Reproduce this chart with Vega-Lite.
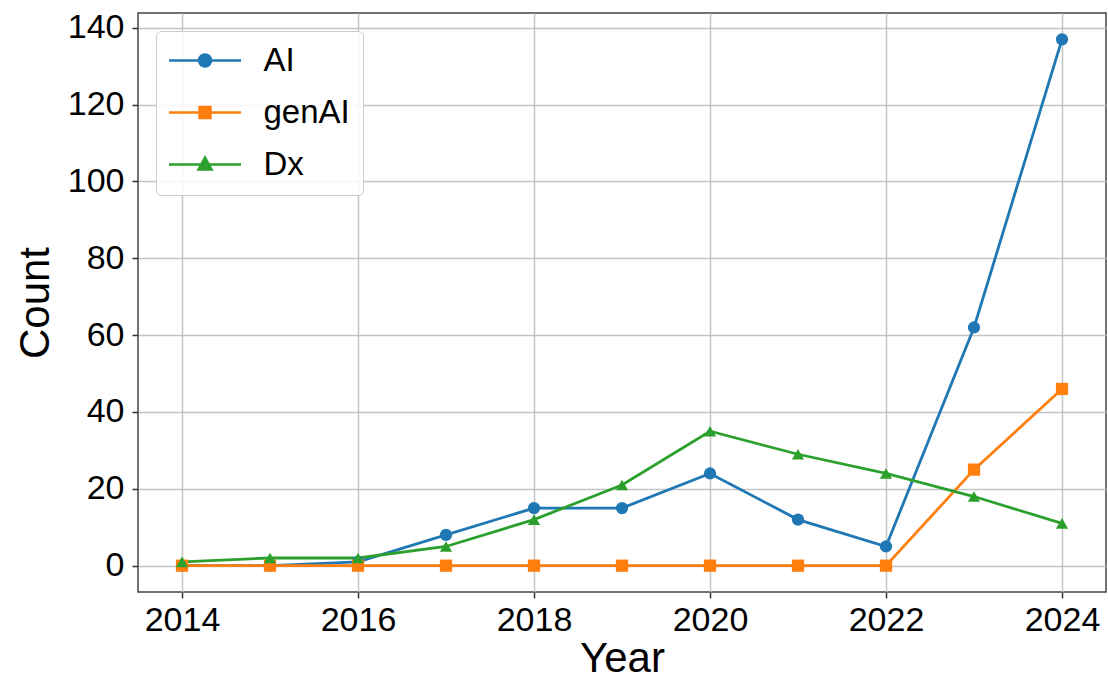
{
  "$schema": "https://vega.github.io/schema/vega-lite/v6.json",
  "width": 968,
  "height": 579,
  "autosize": {"type": "none"},
  "padding": {"left": 138, "top": 13, "right": 2, "bottom": 87},
  "background": "white",
  "config": {
    "font": "Liberation Sans",
    "view": {"stroke": "#444444", "strokeWidth": 1.5},
    "axis": {
      "domain": false,
      "grid": true,
      "gridColor": "#c4c4c4",
      "gridWidth": 1.5,
      "tickColor": "#333333",
      "tickSize": 6,
      "tickWidth": 1.5,
      "labelColor": "black",
      "labelFontSize": 34,
      "titleColor": "black",
      "titleFontSize": 42,
      "titleFontWeight": "normal"
    }
  },
  "data": {
    "values": [
      {"year": 2014, "series": "AI", "count": 0},
      {"year": 2015, "series": "AI", "count": 0},
      {"year": 2016, "series": "AI", "count": 1},
      {"year": 2017, "series": "AI", "count": 8},
      {"year": 2018, "series": "AI", "count": 15},
      {"year": 2019, "series": "AI", "count": 15},
      {"year": 2020, "series": "AI", "count": 24},
      {"year": 2021, "series": "AI", "count": 12},
      {"year": 2022, "series": "AI", "count": 5},
      {"year": 2023, "series": "AI", "count": 62},
      {"year": 2024, "series": "AI", "count": 137},
      {"year": 2014, "series": "genAI", "count": 0},
      {"year": 2015, "series": "genAI", "count": 0},
      {"year": 2016, "series": "genAI", "count": 0},
      {"year": 2017, "series": "genAI", "count": 0},
      {"year": 2018, "series": "genAI", "count": 0},
      {"year": 2019, "series": "genAI", "count": 0},
      {"year": 2020, "series": "genAI", "count": 0},
      {"year": 2021, "series": "genAI", "count": 0},
      {"year": 2022, "series": "genAI", "count": 0},
      {"year": 2023, "series": "genAI", "count": 25},
      {"year": 2024, "series": "genAI", "count": 46},
      {"year": 2014, "series": "Dx", "count": 1},
      {"year": 2015, "series": "Dx", "count": 2},
      {"year": 2016, "series": "Dx", "count": 2},
      {"year": 2017, "series": "Dx", "count": 5},
      {"year": 2018, "series": "Dx", "count": 12},
      {"year": 2019, "series": "Dx", "count": 21},
      {"year": 2020, "series": "Dx", "count": 35},
      {"year": 2021, "series": "Dx", "count": 29},
      {"year": 2022, "series": "Dx", "count": 24},
      {"year": 2023, "series": "Dx", "count": 18},
      {"year": 2024, "series": "Dx", "count": 11}
    ]
  },
  "encoding": {
    "x": {
      "field": "year",
      "type": "quantitative",
      "scale": {"domain": [2013.5, 2024.5], "nice": false, "zero": false},
      "axis": {
        "title": "Year",
        "values": [2014, 2016, 2018, 2020, 2022, 2024],
        "format": "d",
        "labelFlush": false,
        "labelPadding": 5,
        "titlePadding": 1
      }
    },
    "y": {
      "field": "count",
      "type": "quantitative",
      "scale": {"domain": [-6.85, 143.85], "nice": false, "zero": false},
      "axis": {
        "title": "Count",
        "values": [0, 20, 40, 60, 80, 100, 120, 140],
        "labelPadding": 8,
        "titlePadding": 10
      }
    },
    "color": {
      "field": "series",
      "type": "nominal",
      "sort": ["AI", "genAI", "Dx"],
      "scale": {"domain": ["AI", "genAI", "Dx"], "range": ["#1f77b4", "#ff7f0e", "#2ca02c"]},
      "legend": {
        "title": null,
        "orient": "top-left",
        "offset": 18,
        "fillColor": "rgba(255,255,255,0.85)",
        "strokeColor": "#cccccc",
        "cornerRadius": 5,
        "padding": 13,
        "labelFontSize": 33,
        "labelColor": "black",
        "symbolSize": 400,
        "symbolStrokeWidth": 2.5,
        "symbolOffset": 19.5,
        "labelOffset": 42,
        "rowPadding": 18,
        "symbolOpacity": 1,
        "encode": {
          "symbols": {
            "update": {
              "shape": {"signal": "datum.value === 'AI' ? 'M-3.6,0H3.6M-0.6,0A0.6,0.6 0 1,0 0.6,0A0.6,0.6 0 1,0 -0.6,0Z' : datum.value === 'genAI' ? 'M-3.6,0H3.6M-0.55,-0.55H0.55V0.55H-0.55Z' : 'M-3.6,0H3.6M0,-0.7L0.65,0.5H-0.65Z'"},
              "fill": {"scale": "color", "field": "value"},
              "stroke": {"scale": "color", "field": "value"},
              "strokeWidth": {"value": 2.5},
              "opacity": {"value": 1}
            }
          }
        }
      }
    }
  },
  "layer": [
    {
      "mark": {"type": "line", "strokeWidth": 2.8}
    },
    {
      "mark": {"type": "point", "filled": true, "opacity": 1, "size": 150},
      "encoding": {
        "shape": {
          "condition": [
            {"test": "datum.series === 'AI'", "value": "circle"},
            {"test": "datum.series === 'genAI'", "value": "square"}
          ],
          "value": "triangle-up"
        }
      }
    }
  ]
}
